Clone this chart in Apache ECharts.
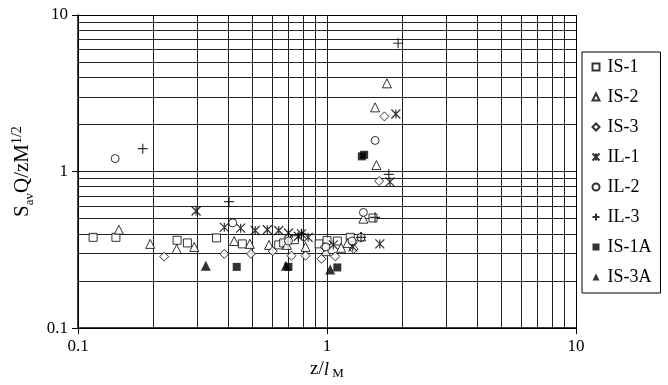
<!DOCTYPE html>
<html>
<head>
<meta charset="utf-8">
<script src="https://cdn.jsdelivr.net/npm/echarts@6/dist/echarts.min.js"></script>
<style>
  html, body { margin: 0; padding: 0; background: #fff; }
  #chart { width: 668px; height: 385px; }
</style>
</head>
<body>
<div id="chart"></div>
<script>
  // data, [z/lM, SavQ/zM^1/2]
  var is1 = [[0.115, 0.38], [0.142, 0.38], [0.25, 0.364], [0.275, 0.35], [0.36, 0.377], [0.457, 0.345],
    [0.64, 0.34], [0.67, 0.35], [0.74, 0.367], [0.93, 0.345], [1.0, 0.362], [1.1, 0.36], [1.24, 0.38], [1.53, 0.505]];
  var is2 = [[0.146, 0.425], [0.195, 0.345], [0.249, 0.32], [0.293, 0.33], [0.424, 0.36], [0.49, 0.345],
    [0.585, 0.34], [0.69, 0.34], [0.82, 0.33], [0.99, 0.31], [1.14, 0.326], [1.21, 0.35], [1.37, 0.385],
    [1.4, 0.5], [1.58, 1.1], [1.56, 2.57], [1.74, 3.66]];
  var is3 = [[0.222, 0.286], [0.387, 0.298], [0.495, 0.298], [0.605, 0.31], [0.72, 0.29], [0.82, 0.29],
    [0.95, 0.277], [0.98, 0.33], [1.08, 0.287], [1.28, 0.32], [1.62, 0.87], [1.7, 2.25]];
  var il1 = [[0.298, 0.56], [0.387, 0.44], [0.45, 0.435], [0.515, 0.42], [0.576, 0.425], [0.64, 0.42],
    [0.70, 0.405], [0.767, 0.386], [0.79, 0.4], [0.84, 0.38], [1.06, 0.34], [1.27, 0.33], [1.63, 0.345],
    [1.79, 0.86], [1.89, 2.33]];
  var il2 = [[0.141, 1.21], [0.418, 0.47], [0.70, 0.36], [0.99, 0.33], [1.26, 0.36], [1.37, 0.38],
    [1.4, 0.548], [1.56, 1.58]];
  var il3 = [[0.182, 1.4], [0.404, 0.643], [0.79, 0.4], [1.37, 0.38], [1.56, 0.51], [1.77, 0.96], [1.93, 6.6]];
  var is1a = [[0.434, 0.246], [0.70, 0.246], [1.1, 0.244], [1.38, 1.25], [1.41, 1.28]];
  var is3a = [[0.326, 0.25], [0.684, 0.25], [1.03, 0.237]];

  // minor grid values (log decades 0.1-1 and 1-10)
  var minorGrid = [0.2, 0.3, 0.4, 0.5, 0.6, 0.7, 0.8, 0.9, 1, 2, 3, 4, 5, 6, 7, 8, 9];

  var serif = '"Liberation Serif", "DejaVu Serif", serif';
  var open = { color: '#fff', borderColor: '#000', borderWidth: 1 };
  var stroke = { color: 'none', borderColor: '#000', borderWidth: 1.2 };
  var filled = { color: '#000', borderColor: '#000', borderWidth: 0 };

  var gridLines = [];
  minorGrid.forEach(function (v) {
    gridLines.push({ xAxis: v });
    gridLines.push({ yAxis: v });
  });

  function sc(name, data, symbol, size, style) {
    return {
      name: name,
      type: 'scatter',
      data: data,
      symbol: symbol,
      symbolSize: size,
      itemStyle: style,
      z: 5,
      animation: false
    };
  }

  var chart = echarts.init(document.getElementById('chart'));
  chart.setOption({
    animation: false,
    grid: { left: 78, right: 92, top: 15, bottom: 54 },
    legend: {
      orient: 'vertical',
      left: 582,
      top: 52,
      data: ['IS-1', 'IS-2', 'IS-3', 'IL-1', 'IL-2', 'IL-3', 'IS-1A', 'IS-3A'],
      itemWidth: 7,
      itemHeight: 7,
      itemGap: 12,
      padding: [6, 9, 7, 8],
      borderColor: '#000',
      borderWidth: 1,
      textStyle: { fontFamily: serif, fontSize: 18, color: '#000', lineHeight: 18, padding: [0, 0, 0, 3] }
    },
    xAxis: {
      type: 'log',
      logBase: 10,
      min: 0.1,
      max: 10,
      name: '{a|z/}{i|l}{s| M}',
      nameLocation: 'middle',
      nameGap: 28,
      nameTextStyle: {
        rich: {
          a: { fontFamily: serif, fontSize: 19, color: '#000' },
          i: { fontFamily: serif, fontSize: 19, fontStyle: 'italic', color: '#000' },
          s: { fontFamily: serif, fontSize: 13, color: '#000', padding: [8, 0, 0, 0] }
        }
      },
      axisLine: { lineStyle: { color: '#000', width: 1.5 } },
      axisTick: { show: true, length: 6, lineStyle: { color: '#000' } },
      axisLabel: { fontFamily: serif, fontSize: 17, color: '#000', margin: 10 },
      splitLine: { show: true, lineStyle: { color: '#000', width: 1 } },
      minorTick: { show: false }
    },
    yAxis: {
      type: 'log',
      logBase: 10,
      min: 0.1,
      max: 10,
      name: '{a|S}{s|av}{a|Q/zM}{p|1/2}',
      nameLocation: 'middle',
      nameRotate: 90,
      nameGap: 36,
      nameTextStyle: {
        rich: {
          a: { fontFamily: serif, fontSize: 21, color: '#000', lineHeight: 26 },
          s: { fontFamily: serif, fontSize: 13, color: '#000', verticalAlign: 'bottom', lineHeight: 26 },
          p: { fontFamily: serif, fontSize: 14, color: '#000', verticalAlign: 'top', lineHeight: 26 }
        }
      },
      axisLine: { show: true, lineStyle: { color: '#000', width: 1.5 } },
      axisTick: { show: true, length: 6, lineStyle: { color: '#000' } },
      axisLabel: { fontFamily: serif, fontSize: 17, color: '#000', margin: 10 },
      splitLine: { show: true, lineStyle: { color: '#000', width: 1 } }
    },
    series: [
      {
        name: 'grid',
        type: 'scatter',
        data: [],
        z: 1,
        markLine: {
          silent: true,
          symbol: 'none',
          label: { show: false },
          lineStyle: { color: '#222', width: 1, type: 'solid' },
          data: gridLines,
          animation: false
        }
      },
      sc('IS-1', is1, 'rect', 8, open),
      sc('IS-2', is2, 'triangle', 9, open),
      sc('IS-3', is3, 'diamond', 9, open),
      sc('IL-1', il1, 'path://M0,0L10,10M10,0L0,10M5,0L5,10', 9, stroke),
      sc('IL-2', il2, 'circle', 8, open),
      sc('IL-3', il3, 'path://M5,0L5,10M0,5L10,5', 10, stroke),
      sc('IS-1A', is1a, 'rect', 8, filled),
      sc('IS-3A', is3a, 'triangle', 10, filled)
    ]
  });
</script>
</body>
</html>
